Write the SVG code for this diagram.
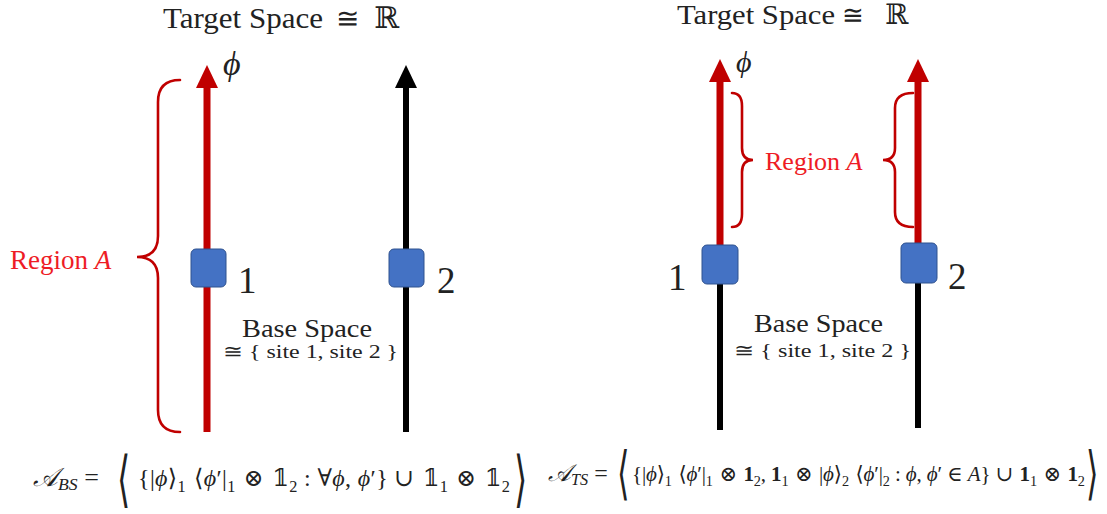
<svg xmlns="http://www.w3.org/2000/svg" width="1107" height="514" viewBox="0 0 1107 514">
<style>
.t{font-family:"Liberation Serif","DejaVu Serif",serif;fill:#222}
.i{font-style:italic}
.m{font-family:"DejaVu Serif","Liberation Serif",serif}
.red{fill:#EE1C25}
.br{fill:none;stroke:#C00000;stroke-width:2.6;stroke-linecap:round}
.sq{fill:#4472C4;stroke:#2F528F;stroke-width:1}
.rl{stroke:#C00000;stroke-width:7}
.bl{stroke:#000;stroke-width:6}
.sub{font-size:0.68em}
</style>
<rect width="1107" height="514" fill="#fff"/>

<g id="connectors">
  <!-- left panel -->
  <line class="rl" x1="207" y1="432" x2="207" y2="84"/>
  <polygon points="207,65 196,88 218,88" fill="#C00000"/>
  <line class="bl" x1="406" y1="432" x2="406" y2="84"/>
  <polygon points="406,65 395,88 417,88" fill="#000"/>
  <!-- right panel -->
  <line class="rl" x1="720" y1="250" x2="720" y2="80"/>
  <polygon points="720,59 709,82 731,82" fill="#C00000"/>
  <line class="bl" x1="720" y1="280" x2="720" y2="430"/>
  <line class="rl" x1="918" y1="248" x2="918" y2="80"/>
  <polygon points="918,59 907,82 929,82" fill="#C00000"/>
  <line class="bl" x1="918" y1="280" x2="918" y2="428"/>
</g>

<g id="braces">
  <path class="br" d="M180,80 Q158,80 158,102 L158,236 Q158,257 137,257 Q158,257 158,278 L158,410 Q158,432 180,432"/>
  <path class="br" d="M732,93 Q742,93 742,106 L742,148 Q742,160 753,160 Q742,160 742,172 L742,214 Q742,227 732,227"/>
  <path class="br" d="M913,93 Q895,93 895,108 L895,148 Q895,160 883,160 Q895,160 895,172 L895,212 Q895,227 913,227"/>
</g>

<g id="site1-left"><rect class="sq" x="191" y="249" width="35" height="38" rx="5"/></g>
<g id="site2-left"><rect class="sq" x="389" y="249" width="35" height="38" rx="5"/></g>
<g id="site1-right"><rect class="sq" x="702" y="245" width="36" height="39" rx="5"/></g>
<g id="site2-right"><rect class="sq" x="901" y="243" width="36" height="40" rx="5"/></g>

<g id="labels-left">
  <text class="t" x="163" y="28" font-size="29" textLength="160" lengthAdjust="spacingAndGlyphs">Target Space</text>
  <text class="t m" x="336" y="28" font-size="28">≅</text>
  <text class="t m" x="374" y="28" font-size="30">ℝ</text>
  <text class="t i" x="223" y="75" font-size="34">ϕ</text>
  <text class="t red" x="10" y="269" font-size="27">Region <tspan class="i">A</tspan></text>
  <text class="t" x="238" y="293" font-size="37">1</text>
  <text class="t" x="437" y="293" font-size="37">2</text>
  <text class="t" x="242" y="337" font-size="26" textLength="130" lengthAdjust="spacingAndGlyphs">Base Space</text>
  <text class="t" x="223" y="358" font-size="19" textLength="175" lengthAdjust="spacingAndGlyphs">≅ { site 1, site 2 }</text>
</g>

<g id="labels-right">
  <text class="t" x="677" y="24" font-size="28" textLength="158" lengthAdjust="spacingAndGlyphs">Target Space</text>
  <text class="t m" x="842" y="24" font-size="26">≅</text>
  <text class="t m" x="885" y="24" font-size="28">ℝ</text>
  <text class="t i" x="736" y="72" font-size="30">ϕ</text>
  <text class="t red" x="765" y="170" font-size="26">Region <tspan class="i">A</tspan></text>
  <text class="t" x="668" y="290" font-size="37">1</text>
  <text class="t" x="948" y="289" font-size="37">2</text>
  <text class="t" x="754" y="332" font-size="26" textLength="129" lengthAdjust="spacingAndGlyphs">Base Space</text>
  <text class="t" x="734" y="357" font-size="19" textLength="177" lengthAdjust="spacingAndGlyphs">≅ { site 1, site 2 }</text>
</g>

<g id="formula-left">
  <text class="t" x="33" y="486" font-size="26"><tspan class="i m">𝒜</tspan><tspan class="i sub" dy="4">BS</tspan><tspan dy="-4"> =</tspan></text>
  <text class="t m" font-size="34" transform="translate(117,500) scale(1,1.8)">⟨</text>
  <text class="t" x="138" y="486" font-size="24" textLength="372" lengthAdjust="spacing">{|<tspan class="i">ϕ</tspan><tspan class="m">⟩</tspan><tspan class="sub" dy="6">1</tspan><tspan dy="-6" class="m"> ⟨</tspan><tspan class="i">ϕ</tspan>′|<tspan class="sub" dy="6">1</tspan><tspan dy="-6" class="m"> ⊗ 𝟙</tspan><tspan class="sub" dy="6">2</tspan><tspan dy="-6"> : </tspan><tspan class="m">∀</tspan><tspan class="i">ϕ</tspan>, <tspan class="i">ϕ</tspan>′} <tspan class="m">∪ 𝟙</tspan><tspan class="sub" dy="6">1</tspan><tspan dy="-6" class="m"> ⊗ 𝟙</tspan><tspan class="sub" dy="6">2</tspan></text>
  <text class="t m" font-size="34" transform="translate(514,500) scale(1,1.8)">⟩</text>
</g>

<g id="formula-right">
  <text class="t" x="548" y="481" font-size="24"><tspan class="i m">𝒜</tspan><tspan class="i sub" dy="4">TS</tspan><tspan dy="-4"> =</tspan></text>
  <text class="t m" font-size="32" transform="translate(617,493) scale(1,1.8)">⟨</text>
  <text class="t" x="632" y="481" font-size="21" textLength="453" lengthAdjust="spacing">{|<tspan class="i">ϕ</tspan><tspan class="m">⟩</tspan><tspan class="sub" dy="5">1</tspan><tspan dy="-5" class="m"> ⟨</tspan><tspan class="i">ϕ</tspan>′|<tspan class="sub" dy="5">1</tspan><tspan dy="-5" class="m"> ⊗ </tspan><tspan font-weight="bold">1</tspan><tspan class="sub" dy="5">2</tspan><tspan dy="-5">, </tspan><tspan font-weight="bold">1</tspan><tspan class="sub" dy="5">1</tspan><tspan dy="-5" class="m"> ⊗ </tspan>|<tspan class="i">ϕ</tspan><tspan class="m">⟩</tspan><tspan class="sub" dy="5">2</tspan><tspan dy="-5" class="m"> ⟨</tspan><tspan class="i">ϕ</tspan>′|<tspan class="sub" dy="5">2</tspan><tspan dy="-5"> : </tspan><tspan class="i">ϕ</tspan>, <tspan class="i">ϕ</tspan>′ <tspan class="m">∈</tspan> <tspan class="i">A</tspan>} <tspan class="m">∪ </tspan><tspan font-weight="bold">1</tspan><tspan class="sub" dy="5">1</tspan><tspan dy="-5" class="m"> ⊗ </tspan><tspan font-weight="bold">1</tspan><tspan class="sub" dy="5">2</tspan></text>
  <text class="t m" font-size="32" transform="translate(1086,493) scale(1,1.8)">⟩</text>
</g>
</svg>
